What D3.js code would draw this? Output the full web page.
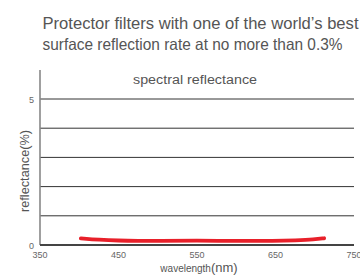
<!DOCTYPE html>
<html>
<head>
<meta charset="utf-8">
<script src="https://cdn.jsdelivr.net/npm/d3@7"></script>
<style>
  body { margin: 0; background: #fff; }
  text { font-family: "Liberation Sans", Arial, sans-serif; }
</style>
</head>
<body>
<svg id="chart" width="360" height="278"></svg>
<script>
/****************************************************************
    Data
/****************************************************************/
const wavelengths = [402, 425, 450, 475, 500, 550, 600, 650, 675, 700, 712]
const reflectance = [0.23, 0.18, 0.15, 0.14, 0.14, 0.15, 0.14, 0.14, 0.16, 0.19, 0.23]
const xTicks = [350, 450, 550, 650, 750]
const yTicks = [0, 5]
const gridValues = [1, 2, 3, 4, 5]
const titleLines = [
  'Protector filters with one of the world\u2019s best',
  'surface reflection rate at no more than 0.3%'
]
const titleWidths = [316, 300] //measured text widths of the title lines

/****************************************************************
    Settings
/****************************************************************/
const settings = {
  left: 40, //x of the y axis
  right: 354, //x of 750 nm
  bottom: 245, //y of 0 %
  top: 99, //y of 5 %
  textColor: '#555',
  lineColor: '#e8202a'
}

const svg = d3.select('#chart')

const x = d3.scaleLinear().domain([350, 750]).range([settings.left, settings.right])
const y = d3.scaleLinear().domain([0, 5]).range([settings.bottom, settings.top])

// title
svg.selectAll('.title')
  .data(titleLines)
  .enter()
  .append('text')
  .attr('x', 42.5)
  .attr('y', (d, i) => 28.7 + i * 21)
  .attr('textLength', (d, i) => titleWidths[i])
  .attr('lengthAdjust', 'spacingAndGlyphs')
  .style('font-size', '16.5px')
  .style('fill', settings.textColor)
  .text(d => d)

// horizontal grid lines
svg.selectAll('.grid')
  .data(gridValues)
  .enter()
  .append('line')
  .attr('x1', settings.left)
  .attr('x2', settings.right)
  .attr('y1', d => y(d))
  .attr('y2', d => y(d))
  .style('stroke', '#333')
  .style('stroke-width', 1)

// left axis line
svg.append('line')
  .attr('x1', settings.left)
  .attr('x2', settings.left)
  .attr('y1', 70)
  .attr('y2', settings.bottom)
  .style('stroke', '#888')
  .style('stroke-width', 1.6)

// bottom axis line
svg.append('line')
  .attr('x1', settings.left)
  .attr('x2', settings.right)
  .attr('y1', settings.bottom)
  .attr('y2', settings.bottom)
  .style('stroke', '#444')
  .style('stroke-width', 1.8)

// y tick labels
svg.selectAll('.ytick')
  .data(yTicks)
  .enter()
  .append('text')
  .attr('x', 34)
  .attr('y', d => y(d) + 3.5)
  .attr('text-anchor', 'end')
  .style('font-size', '9px')
  .style('fill', '#666')
  .text(d => d)

// x tick labels
svg.selectAll('.xtick')
  .data(xTicks)
  .enter()
  .append('text')
  .attr('x', d => x(d))
  .attr('y', 258)
  .attr('text-anchor', 'middle')
  .style('font-size', '9px')
  .style('fill', '#666')
  .text(d => d)

// axis titles
let xTitle = svg.append('text')
  .attr('x', 199)
  .attr('y', 272)
  .attr('text-anchor', 'middle')
  .style('fill', settings.textColor)
xTitle.append('tspan').style('font-size', '10px').text('wavelength')
xTitle.append('tspan').style('font-size', '13px').text('(nm)')

svg.append('text')
  .attr('transform', 'translate(29,171) rotate(-90)')
  .attr('text-anchor', 'middle')
  .attr('textLength', 82)
  .attr('lengthAdjust', 'spacingAndGlyphs')
  .style('font-size', '12.5px')
  .style('fill', settings.textColor)
  .text('reflectance(%)')

svg.append('text')
  .attr('x', 195)
  .attr('y', 84.3)
  .attr('text-anchor', 'middle')
  .attr('textLength', 124)
  .attr('lengthAdjust', 'spacingAndGlyphs')
  .style('font-size', '12.5px')
  .style('fill', settings.textColor)
  .text('spectral reflectance')

// reflectance curve
const line = d3.line()
  .x(d => x(d[0]))
  .y(d => y(d[1]))
  .curve(d3.curveBasis)

svg.append('path')
  .datum(d3.zip(wavelengths, reflectance))
  .attr('d', line)
  .style('fill', 'none')
  .style('stroke', settings.lineColor)
  .style('stroke-width', 3.8)
  .style('stroke-linecap', 'round')
</script>
</body>
</html>
